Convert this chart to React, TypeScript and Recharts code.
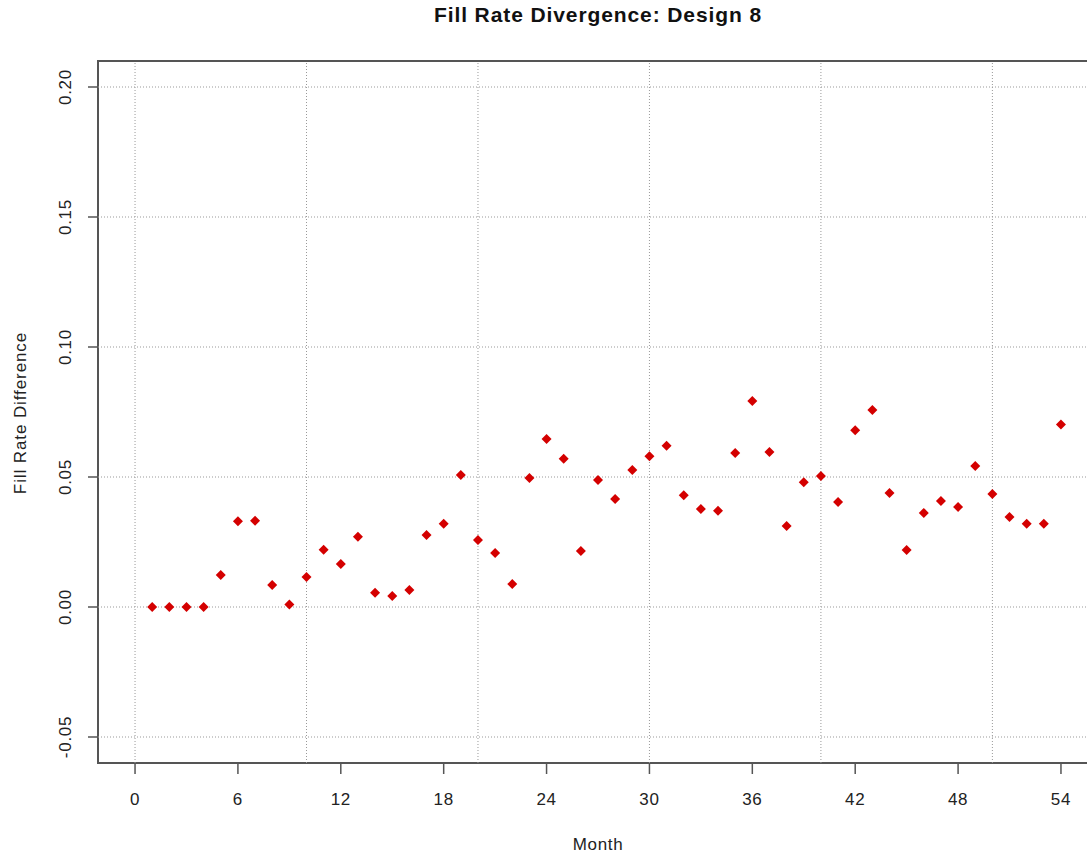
import React from 'react';
import {
    ScatterChart,
    Scatter,
    XAxis,
    YAxis,
    ReferenceLine,
    ReferenceArea
} from 'recharts';

// months 1..54 and the fill rate difference
const months = [
    1, 2, 3, 4, 5, 6, 7, 8, 9, 10, 11, 12, 13, 14, 15, 16, 17, 18,
    19, 20, 21, 22, 23, 24, 25, 26, 27, 28, 29, 30, 31, 32, 33, 34, 35, 36,
    37, 38, 39, 40, 41, 42, 43, 44, 45, 46, 47, 48, 49, 50, 51, 52, 53, 54
];
const fillRateDiff = [
    0.0, 0.0, 0.0, 0.0, 0.0123, 0.033, 0.0332, 0.0085, 0.001, 0.0115, 0.022, 0.0165, 0.027, 0.0055, 0.0042, 0.0065, 0.0277, 0.032,
    0.0508, 0.0258, 0.0208, 0.0088, 0.0496, 0.0646, 0.057, 0.0215, 0.0488, 0.0415, 0.0527, 0.058, 0.062, 0.043, 0.0377, 0.037, 0.0592, 0.0792,
    0.0596, 0.0312, 0.048, 0.0504, 0.0404, 0.068, 0.0758, 0.0438, 0.0219, 0.0362, 0.0408, 0.0385, 0.0542, 0.0435, 0.0346, 0.032, 0.032, 0.0702
];

const xTicks = [0, 6, 12, 18, 24, 30, 36, 42, 48, 54];
const xGrid = [0, 10, 20, 30, 40, 50];
const yTicks = [-0.05, 0, 0.05, 0.1, 0.15, 0.2];
const xDomain: [number, number] = [-2.16, 56.16];
const yDomain: [number, number] = [-0.06, 0.21];

const FONT = '"Liberation Sans", Arial, sans-serif';
const GRID = '#999';
const AXIS = '#555';
const SPACING = '0.7px';

const data = months.map((m, i) => ({ month: m, diff: fillRateDiff[i] }));

const Diamond = (props: any) => {
    const { cx, cy } = props;
    if (cx == null || cy == null) return null;
    const r = 5;
    return (
        <polygon
            points={`${cx},${cy - r} ${cx + r},${cy} ${cx},${cy + r} ${cx - r},${cy}`}
            fill="#d40000"
        />
    );
};

const YTick = (props: any) => {
    const { x, y, payload } = props;
    return (
        <text
            x={x}
            y={y}
            transform={`rotate(-90, ${x}, ${y})`}
            textAnchor="middle"
            fontSize={17}
            fill="#222"
            fontFamily={FONT}
            style={{ letterSpacing: SPACING }}
        >
            {payload.value.toFixed(2)}
        </text>
    );
};

export default function App() {
    return (
        <div style={{ position: 'absolute', left: 0, top: 0, width: 1087, height: 859, overflow: 'hidden', background: '#fff', fontFamily: FONT }}>
            <div style={{ position: 'absolute', left: 0, width: 1196, top: 3, textAlign: 'center', fontWeight: 'bold', fontSize: 21, color: '#111', letterSpacing: '0.9px' }}>
                Fill Rate Divergence: Design 8
            </div>
            <div style={{ position: 'absolute', left: 0, width: 1196, top: 835, textAlign: 'center', fontSize: 17, color: '#222', letterSpacing: SPACING }}>
                Month
            </div>
            <div style={{
                position: 'absolute', left: 21, top: 413, width: 300, marginLeft: -150, marginTop: -10,
                textAlign: 'center', fontSize: 17, color: '#222', transform: 'rotate(-90deg)', lineHeight: '20px',
                letterSpacing: '0.9px'
            }}>
                Fill Rate Difference
            </div>
            <ScatterChart width={1120} height={859} margin={{ top: 61, right: 22, bottom: 0, left: 0 }}>
                <XAxis
                    type="number"
                    dataKey="month"
                    domain={xDomain}
                    ticks={xTicks}
                    allowDataOverflow
                    height={96}
                    axisLine={false}
                    tickLine={{ stroke: AXIS, strokeWidth: 1.5 }}
                    tickSize={11}
                    tickMargin={19}
                    tick={{ fill: '#222', fontSize: 17, fontFamily: FONT, style: { letterSpacing: SPACING } }}
                />
                <YAxis
                    type="number"
                    dataKey="diff"
                    domain={yDomain}
                    ticks={yTicks}
                    allowDataOverflow
                    width={98}
                    axisLine={false}
                    tickLine={{ stroke: AXIS, strokeWidth: 1.5 }}
                    tickSize={10}
                    tickMargin={17}
                    tick={<YTick />}
                />
                {xGrid.map(v => (
                    <ReferenceLine key={`gx-${v}`} x={v} stroke={GRID} strokeDasharray="1 2" />
                ))}
                {yTicks.map(v => (
                    <ReferenceLine key={`gy-${v}`} y={v} stroke={GRID} strokeDasharray="1 2" />
                ))}
                <Scatter data={data} shape={<Diamond />} isAnimationActive={false} />
                <ReferenceArea
                    x1={xDomain[0]}
                    x2={xDomain[1]}
                    y1={yDomain[0]}
                    y2={yDomain[1]}
                    fill="none"
                    fillOpacity={0}
                    stroke={AXIS}
                    strokeWidth={2}
                />
            </ScatterChart>
        </div>
    );
}
